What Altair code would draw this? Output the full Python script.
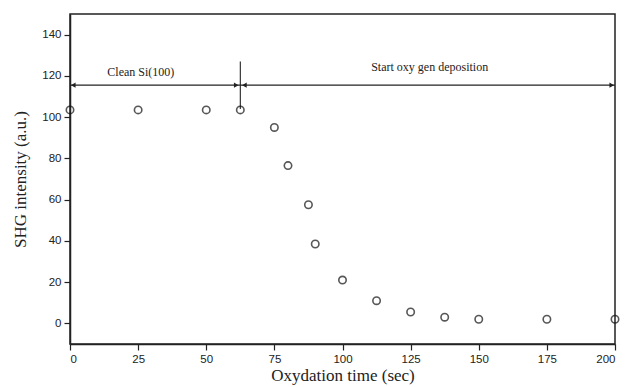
import altair as alt
import pandas as pd

time_s = [0, 25, 50, 62.5, 75, 80, 87.5, 90, 100, 112.5, 125, 137.5, 150, 175, 200]
shg = [103.5, 103.5, 103.5, 103.5, 95, 76.5, 57.5, 38.5, 21, 11, 5.5, 3, 2, 2, 2]

arrow_y = 115.5
split_x = 62.5
split_y = [104, 127]
labels_text = ["Clean Si(100)", "Start oxy gen deposition"]
labels_x = [26, 132]
labels_y = [122, 124.5]

pts = pd.DataFrame({"t": time_s, "s": shg})
line_df = pd.DataFrame({"x": [0], "x2": [200], "y": [arrow_y]})
vline_df = pd.DataFrame({"x": [split_x], "y": [split_y[0]], "y2": [split_y[1]]})
heads = pd.DataFrame({
    "x": [1.2, split_x - 1.5, split_x + 1.5, 198.8],
    "y": [arrow_y] * 4,
    "shape": ["triangle-left", "triangle-right", "triangle-left", "triangle-right"],
})
txt = pd.DataFrame({"x": labels_x, "y": labels_y, "t": labels_text})

xs = alt.Scale(domain=[0, 200], nice=False, zero=False)
ys = alt.Scale(domain=[-10, 150], nice=False, zero=False)

xaxis = alt.Axis(
    title="Oxydation time (sec)",
    values=[v * 12.5 for v in range(17)],
    labelExpr="datum.value % 25 == 0 ? datum.label : ''",
    grid=False,
    tickSize=alt.condition("datum.value % 25 == 0", alt.value(6), alt.value(3)),
    labelFont="Liberation Sans", labelFontSize=11.5, labelColor="#222",
    titleFont="Liberation Serif", titleFontSize=17, titleFontWeight="normal", titleColor="#222",
    titlePadding=3, labelPadding=3,
    domainColor="#222", tickColor="#222", domainWidth=1.5, tickWidth=1.2,
)
yaxis = alt.Axis(
    title="SHG intensity (a.u.)",
    values=list(range(0, 150, 10)),
    labelExpr="datum.value % 20 == 0 ? datum.label : ''",
    grid=False,
    tickSize=alt.condition("datum.value % 20 == 0", alt.value(6), alt.value(3)),
    labelFont="Liberation Sans", labelFontSize=11.5, labelColor="#222",
    titleFont="Liberation Serif", titleFontSize=17, titleFontWeight="normal", titleColor="#222",
    titlePadding=12, labelPadding=3,
    domainColor="#222", tickColor="#222", domainWidth=1.5, tickWidth=1.2,
)

points = alt.Chart(pts).mark_point(
    shape="circle", filled=False, color="#111", size=55, strokeWidth=1.6
).encode(
    x=alt.X("t:Q", scale=xs, axis=xaxis),
    y=alt.Y("s:Q", scale=ys, axis=yaxis),
)

hline = alt.Chart(line_df).mark_rule(color="#222", strokeWidth=1.3).encode(
    x=alt.X("x:Q", scale=xs), x2="x2:Q", y=alt.Y("y:Q", scale=ys)
)
vline = alt.Chart(vline_df).mark_rule(color="#222", strokeWidth=1.1).encode(
    x=alt.X("x:Q", scale=xs), y=alt.Y("y:Q", scale=ys), y2="y2:Q"
)
arrowheads = alt.Chart(heads).mark_point(filled=True, color="#222", size=28, opacity=1).encode(
    x=alt.X("x:Q", scale=xs), y=alt.Y("y:Q", scale=ys),
    shape=alt.Shape("shape:N", scale=None),
)
texts = alt.Chart(txt).mark_text(
    font="Liberation Serif", fontSize=12, color="#222", align="center", baseline="middle"
).encode(
    x=alt.X("x:Q", scale=xs), y=alt.Y("y:Q", scale=ys), text="t:N"
)

chart = alt.layer(hline, vline, arrowheads, texts, points).properties(
    width=545, height=330,
    autosize=alt.AutoSizeParams(type="none"),
    padding={"left": 70, "top": 14, "right": 10, "bottom": 43},
    background="white",
).configure_view(stroke="#222", strokeWidth=1.5)

chart.save("out.html", embed_options={"renderer": "svg", "actions": False})
